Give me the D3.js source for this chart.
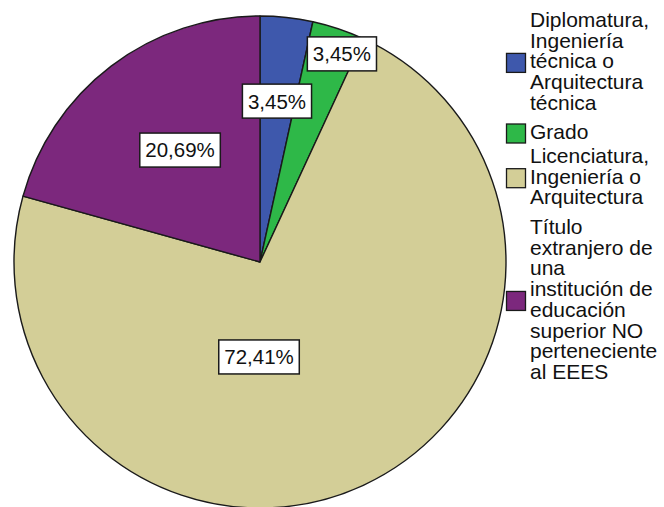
<!DOCTYPE html>
<html><head><meta charset="utf-8">
<script src="https://cdn.jsdelivr.net/npm/d3@7"></script>
<style>html,body{margin:0;padding:0;background:#fff;}svg{display:block;}</style>
</head><body>
<svg id="chart" width="664" height="507"></svg>
<script>
// Data
const categories = [
  "Diplomatura, Ingeniería técnica o Arquitectura técnica",
  "Grado",
  "Licenciatura, Ingeniería o Arquitectura",
  "Título extranjero de una institución de educación superior NO perteneciente al EEES"
];
const counts = [1, 1, 21, 6];
const percentLabels = ["3,45%", "3,45%", "72,41%", "20,69%"];
const legendLines = [
  ["Diplomatura,", "Ingeniería", "técnica o", "Arquitectura", "técnica"],
  ["Grado"],
  ["Licenciatura,", "Ingeniería o", "Arquitectura"],
  ["Título", "extranjero de", "una", "institución de", "educación", "superior NO", "perteneciente", "al EEES"]
];
const colors = ["#3E58AC", "#2EB848", "#D3CE97", "#7C287D"];

// Layout
const cx = 260, cy = 262, R = 246;
const labelOffsets = [[0.069, -0.654], [0.333, -0.846], [-0.004, 0.386], [-0.325, -0.455]];
const legendFirstBaseline = [27, 139, 163, 234];
const lineH = 20.7;
const font = "'Liberation Sans', Arial, sans-serif";

const svg = d3.select("#chart");
const g = svg.append("g").attr("transform", `translate(${cx},${cy})`);

const pie = d3.pie().sort(null).value(d => d)(counts);
const arc = d3.arc().innerRadius(0).outerRadius(R);

g.selectAll("path").data(pie).join("path")
  .attr("d", arc)
  .attr("fill", (d, i) => colors[i])
  .attr("stroke", "#1a1a1a")
  .attr("stroke-width", 1.4)
  .attr("stroke-linejoin", "round");

// Labels
const lab = g.selectAll("g.lab").data(pie).join("g").attr("class", "lab")
  .attr("transform", (d, i) => `translate(${labelOffsets[i][0] * R},${labelOffsets[i][1] * R})`);
lab.each(function(d, i) {
  const el = d3.select(this);
  const t = el.append("text")
    .attr("text-anchor", "middle")
    .attr("dy", "0.36em")
    .attr("font-family", font)
    .attr("font-size", 20.5)
    .attr("fill", "#111")
    .text(percentLabels[i]);
  const w = t.node().getComputedTextLength() + 11;
  el.insert("rect", "text")
    .attr("x", -w / 2).attr("y", -17)
    .attr("width", w).attr("height", 34)
    .attr("fill", "#fff")
    .attr("stroke", "#1a1a1a")
    .attr("stroke-width", 1.5);
});

// Legend
const leg = svg.append("g");
legendLines.forEach((lines, i) => {
  const y0 = legendFirstBaseline[i];
  const top = y0 - 15;
  const bottom = y0 + (lines.length - 1) * lineH + 4;
  const mid = (top + bottom) / 2;
  leg.append("rect")
    .attr("x", 506.5).attr("y", mid - 9.5)
    .attr("width", 19).attr("height", 19)
    .attr("fill", colors[i])
    .attr("stroke", "#1a1a1a").attr("stroke-width", 1.3);
  const t = leg.append("text")
    .attr("font-family", font)
    .attr("font-size", 21)
    .attr("fill", "#111");
  lines.forEach((ln, j) => {
    t.append("tspan").attr("x", 530).attr("y", y0 + j * lineH).text(ln);
  });
});
</script>
</body></html>
